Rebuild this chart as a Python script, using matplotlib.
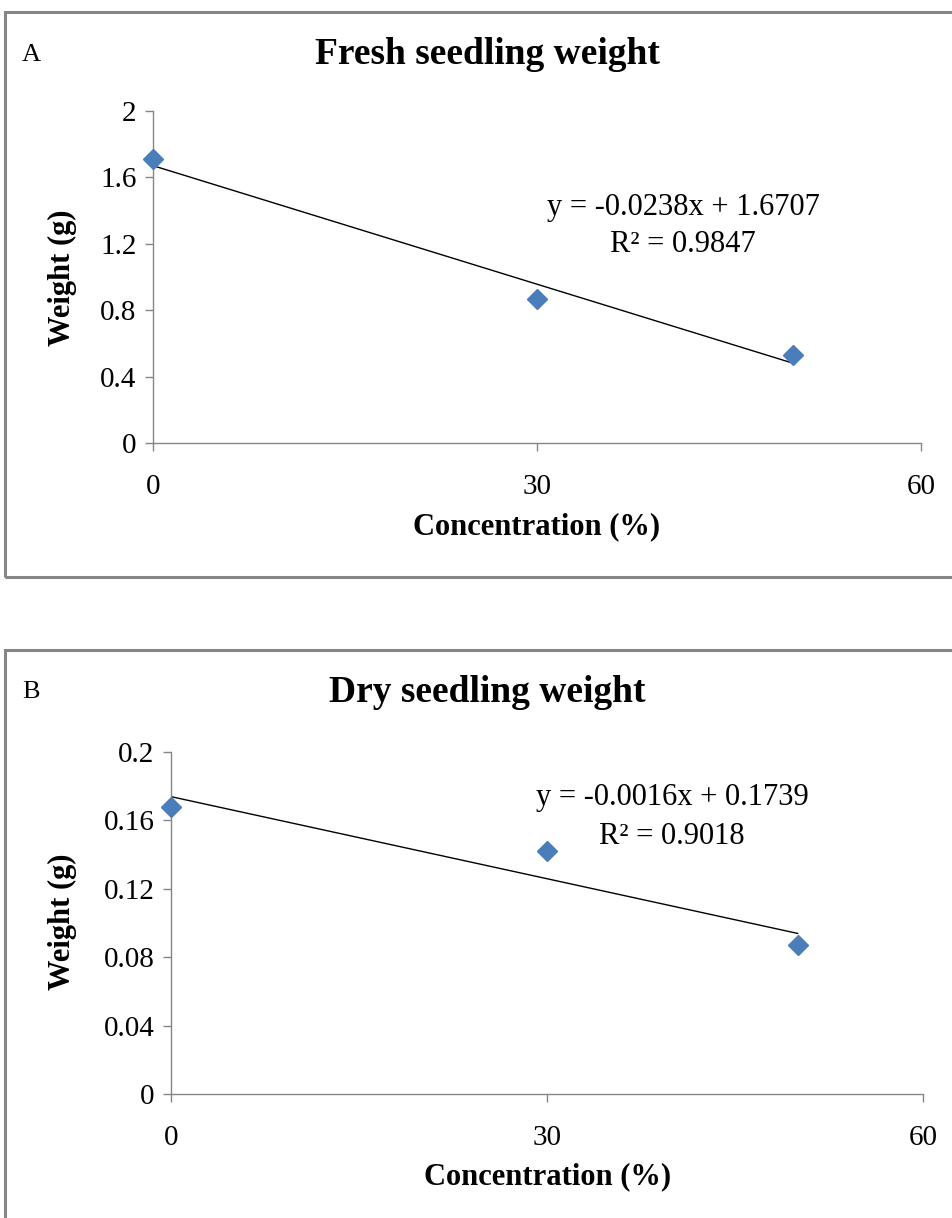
import matplotlib
matplotlib.use("Agg")
import matplotlib.pyplot as plt
from matplotlib.patches import Rectangle
import numpy as np

# ---- data ----
conc = [0, 30, 50]
fresh_weight = [1.71, 0.87, 0.53]
dry_weight = [0.168, 0.142, 0.087]
fresh_fit = (-0.0238, 1.6707, 0.9847)
dry_fit = (-0.0016, 0.1739, 0.9018)
x_ticks = [0, 30, 60]
fresh_yticks = [0, 0.4, 0.8, 1.2, 1.6, 2]
fresh_yticklabels = ["0", "0.4", "0.8", "1.2", "1.6", "2"]
dry_yticks = [0, 0.04, 0.08, 0.12, 0.16, 0.2]
dry_yticklabels = ["0", "0.04", "0.08", "0.12", "0.16", "0.2"]

W, H = 953, 1218
fig = plt.figure(figsize=(W / 100, H / 100), dpi=100)
plt.rcParams['font.family'] = ['Liberation Serif', 'DejaVu Serif']

GRAY = "#868686"
BLUE = "#4A7EBB"


def fx(px):
    return px / W


def fy(py):
    return 1 - py / H


def frame(x0, y0, x1, y1):
    r = Rectangle((fx(x0), fy(y1)), fx(x1) - fx(x0), fy(y0) - fy(y1),
                  transform=fig.transFigure, fill=False, edgecolor=GRAY,
                  linewidth=2.2, clip_on=False)
    fig.patches.append(r)


def panel(ax_box, x, y, fit, yticks, yticklabels, ymax, letter, title,
          letter_pos, title_pos, eq_pos, ylab_pos, xlab_pos):
    l, t, r, b = ax_box
    ax = fig.add_axes([fx(l), fy(b), fx(r) - fx(l), fy(t) - fy(b)])
    ax.set_xlim(0, 60)
    ax.set_ylim(0, ymax)
    for s in ["top", "right"]:
        ax.spines[s].set_visible(False)
    for s in ["left", "bottom"]:
        ax.spines[s].set_color(GRAY)
        ax.spines[s].set_linewidth(1.0)
    ax.set_xticks(x_ticks)
    ax.set_xticklabels([str(v) for v in x_ticks], fontsize=21)
    ax.set_yticks(yticks)
    ax.set_yticklabels(yticklabels, fontsize=21)
    ax.tick_params(axis="both", colors=GRAY, labelcolor="black",
                   length=6, width=1.0, direction="out")
    ax.tick_params(axis="x", pad=16)
    ax.tick_params(axis="y", pad=6)
    ax.patch.set_alpha(0)
    # trendline
    slope, icpt, r2 = fit
    xs = np.array([min(x), max(x)])
    ax.plot(xs, slope * xs + icpt, color="black", linewidth=1.0, zorder=2)
    ax.plot(x, y, linestyle="none", marker="D", markersize=10,
            color=BLUE, markeredgecolor=BLUE, zorder=3, clip_on=False)
    sign = "-" if slope < 0 else ""
    fig.text(fx(eq_pos[0]), fy(eq_pos[1]),
             f"y = {sign}{abs(slope):.4f}x + {icpt:.4f}",
             ha="center", va="center", fontsize=22)
    fig.text(fx(eq_pos[0]), fy(eq_pos[1] + 38),
             f"R\u00b2 = {r2:.4f}", ha="center", va="center", fontsize=22)
    fig.text(fx(letter_pos[0]), fy(letter_pos[1]), letter, ha="left",
             va="center", fontsize=19)
    fig.text(fx(title_pos[0]), fy(title_pos[1]), title, ha="center",
             va="center", fontsize=27, fontweight="bold")
    fig.text(fx(ylab_pos[0]), fy(ylab_pos[1]), "Weight (g)", ha="center",
             va="center", rotation=90, fontsize=22, fontweight="bold")
    fig.text(fx(xlab_pos[0]), fy(xlab_pos[1]), "Concentration (%)",
             ha="center", va="center", fontsize=22, fontweight="bold")
    return ax


frame(5, 12, 958, 577)
frame(5, 650, 958, 1225)

panel((153, 111, 921, 443), conc, fresh_weight, fresh_fit,
      fresh_yticks, fresh_yticklabels, 2.0, "A", "Fresh seedling weight",
      (22, 55), (487, 55), (683, 207), (62, 278), (537, 527))

panel((171, 752, 923, 1094), conc, dry_weight, dry_fit,
      dry_yticks, dry_yticklabels, 0.2, "B", "Dry seedling weight",
      (22, 692), (487, 692), (672, 798), (62, 922), (548, 1177))

fig.savefig("out.png", dpi=100, facecolor="white")
